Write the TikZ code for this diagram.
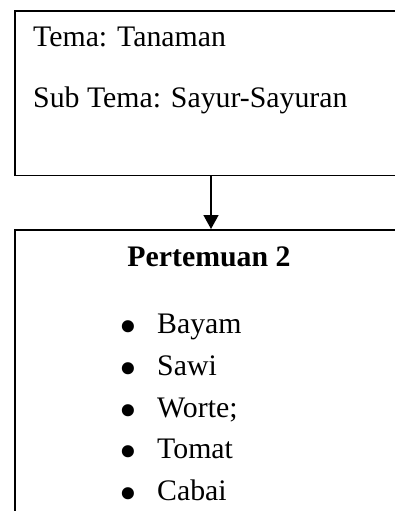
\documentclass[tikz,border=0pt]{standalone}
\usepackage{fontspec}
\setmainfont{Liberation Serif}
\usetikzlibrary{arrows.meta}
\begin{document}
\begin{tikzpicture}[x=1pt,y=-1pt,
  box/.style={draw=black,line width=1.6pt,inner sep=0pt,anchor=north west},
  txt/.style={inner sep=0pt,font=\fontsize{29.8}{34}\selectfont},
  conn/.style={line width=1.6pt,-{Triangle[length=14pt,width=15pt]}}]
\useasboundingbox (0,0) rectangle (395,511);
\clip (0,0) rectangle (395,511);
\node[box,minimum width=420pt,minimum height=164pt] (top) at (14,10.5) {};
\node[box,minimum width=420pt,minimum height=320pt] (bot) at (14,229) {};
\coordinate (ax) at (211,0);
\draw[conn] (top.south -| ax) -- (bot.north -| ax);
\node[txt,anchor=base west] (t1) at (33,47) {Tema: Tanaman};
\node[txt,anchor=base west] (t2) at (33,107) {Sub Tema: Sayur-Sayuran};
\node[txt,anchor=base,font=\fontsize{29.8}{34}\selectfont\bfseries] (h) at (209,266) {Pertemuan 2};
\foreach \y/\w [count=\i] in {333/Bayam,375/Sawi,417/Worte;,458/Tomat,500/Cabai}{
  \node[txt,anchor=base] (b\i) at (128,\y) {\raisebox{-10.7pt}[0pt][0pt]{\scalebox{1.7}{•}}};
  \node[txt,anchor=base west] (i\i) at (157,\y) {\w};
}
\end{tikzpicture}
\end{document}
